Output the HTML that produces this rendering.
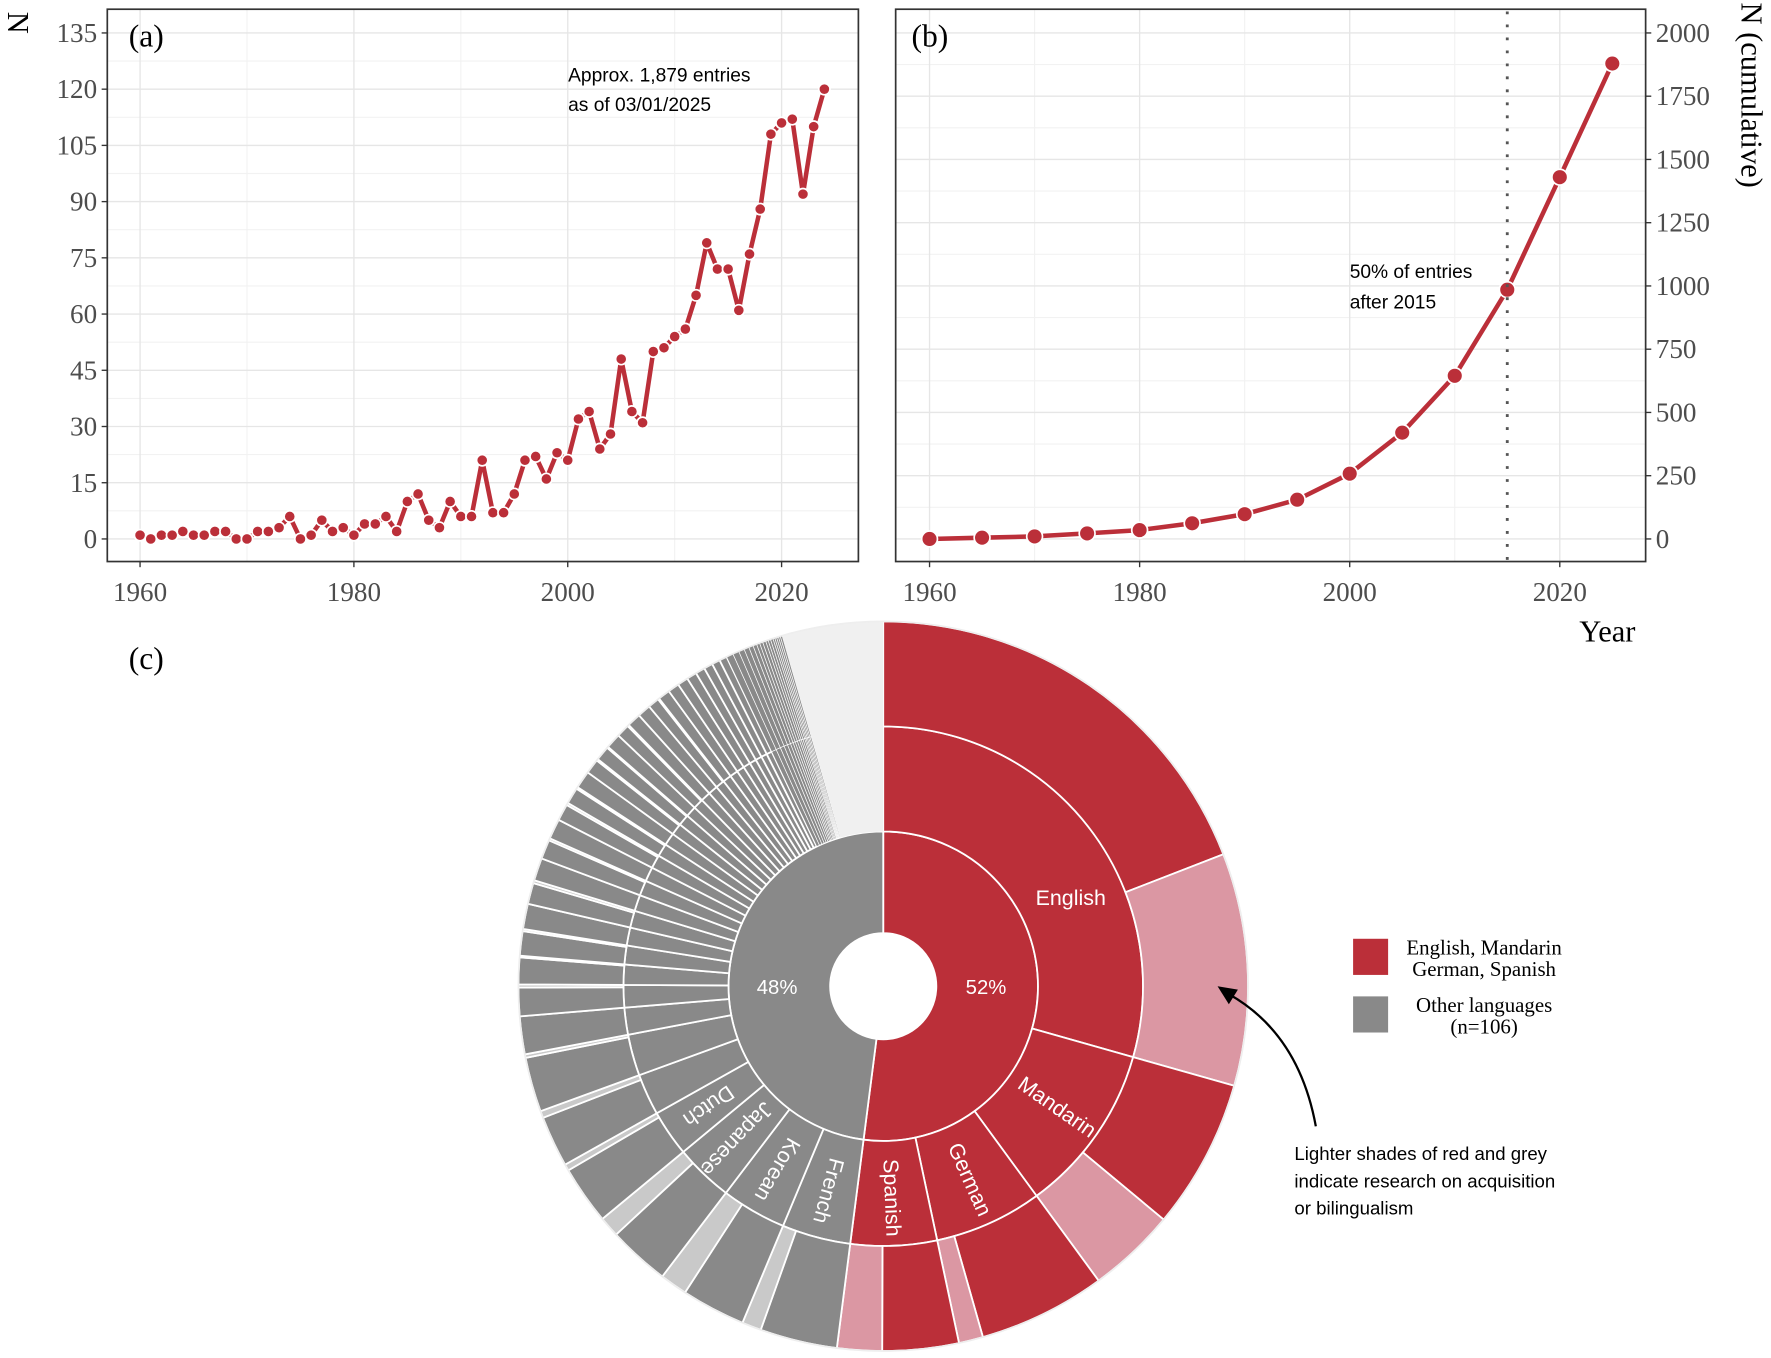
<!DOCTYPE html>
<html><head><meta charset="utf-8">
<style>
html,body{margin:0;padding:0;background:#fff;}
svg{display:block;}
.serif{font-family:"Liberation Serif",serif;}
.sans{font-family:"Liberation Sans",sans-serif;}
</style></head>
<body>
<svg id="fig" width="1771" height="1358" viewBox="0 0 1568 1202" xmlns="http://www.w3.org/2000/svg">
<g id="pa"></g>
<g id="pb"></g>
<g id="pc"></g>
</svg>
<script>
// ---------- Panel (a) data ----------
const yearsA = [];
for (let y = 1960; y <= 2024; y++) yearsA.push(y);
const countsA = [1,0,1,1,2,1,1,2,2,0,0,2,2,3,6,0,1,5,2,3,1,4,4,6,2,10,12,5,3,10,6,6,21,7,7,12,21,22,16,23,21,32,34,24,28,48,34,31,50,51,54,56,65,79,72,72,61,76,88,108,111,112,92,110,120];
const yTicksA = [0,15,30,45,60,75,90,105,120,135];
const xTicksA = [1960,1980,2000,2020];
// ---------- Panel (b) data ----------
const yearsB = [1960,1965,1970,1975,1980,1985,1990,1995,2000,2005,2010,2015,2020,2025];
const cumB = [0,5,10,22,35,62,98,155,258,420,645,985,1430,1879];
const yTicksB = [0,250,500,750,1000,1250,1500,1750,2000];
const xTicksB = [1960,1980,2000,2020];
// ---------- Panel (c) data (percent of entries) ----------
const redLangs = ['English','Mandarin','German','Spanish'];
const redShare = [29.4,10.55,6.72,5.36];
const redAcqFrac = [0.35,0.37,0.16,0.37];
const greyLangs = ['French','Korean','Japanese','Dutch'];
const greyDeg = [15.3,14.5,13,10.3,9.2,9.2,6,5,4.5,4.2,4,3.8,3.6,3.4,3.2,3,2.9,2.8,2.6,2.5,2.4,2.3,2.2,2.1,2,1.9,1.8,1.7,1.6,1.5,1.4,1.3,1.2,1.1,1,0.9,0.8,0.7,0.6,0.5,0.5,0.5,0.4,0.4,0.4,0.3,0.3,0.3,0.3,0.3];
const greyAcqFrac = [0.2,0.3,0.25,0.1,0.12,0.06,0,0.1,0.06,0.08,0,0.12,0,0.1,0,0.12,0.1,0,0.1,0.08,0,0.1,0,0,0.1,0,0,0,0,0,0,0,0,0,0,0,0,0,0,0,0,0,0,0,0,0,0,0,0,0];
const tailDeg = 16.0;

const NS = 'http://www.w3.org/2000/svg';
function mk(parent, tag, attrs, text){
  const e = document.createElementNS(NS, tag);
  for (const k in attrs) e.setAttribute(k, attrs[k]);
  if (text !== undefined) e.textContent = text;
  parent.appendChild(e); return e;
}
const RED = '#bb2f39', PINK = '#db97a3', DG = '#898989', LG = '#c9c9c9', VLG = '#f0f0f0';

function linePanel(g, opt){
  const {x0,x1,y0,y1,xs,ys,xTicks,yTicks,xv,yv,right,ptR,lw,minorX,minorY} = opt;
  minorY.forEach(v=>{ const l=mk(g,'line',{x1:x0,x2:x1,y1:ys(v),y2:ys(v),stroke:'#f2f2f2','stroke-width':1});
     });
  minorX.forEach(v=>{ const l=mk(g,'line',{x1:xs(v),x2:xs(v),y1:y0,y2:y1,stroke:'#f2f2f2','stroke-width':1});
     });
  yTicks.forEach(v=>{ const l=mk(g,'line',{x1:x0,x2:x1,y1:ys(v),y2:ys(v),stroke:'#e6e6e6','stroke-width':1.2});
     });
  xTicks.forEach(v=>{ const l=mk(g,'line',{x1:xs(v),x2:xs(v),y1:y0,y2:y1,stroke:'#e6e6e6','stroke-width':1.2});
     });
  yTicks.forEach(v=>{
    const tx = right ? x1 : x0;
    const t=mk(g,'line',{x1:tx,x2:right?tx+5:tx-5,y1:ys(v),y2:ys(v),stroke:'#333','stroke-width':1.2});
     
    const lb=mk(g,'text',{x:right?tx+9:tx-9,y:ys(v)+8,'text-anchor':right?'start':'end','font-size':24,fill:'#4d4d4d',class:'serif'},String(v));
     
  });
  xTicks.forEach(v=>{
    const t=mk(g,'line',{x1:xs(v),x2:xs(v),y1:y1,y2:y1+5,stroke:'#333','stroke-width':1.2});
     
    const lb=mk(g,'text',{x:xs(v),y:y1+35,'text-anchor':'middle','font-size':24,fill:'#4d4d4d',class:'serif'},String(v));
     
  });
  const pts = xv.map((x,i)=>xs(x)+','+ys(yv[i])).join(' ');
  const pl = mk(g,'polyline',{points:pts,fill:'none',stroke:RED,'stroke-width':lw,'stroke-linejoin':'round'});
   
  xv.forEach((x,i)=>{
    const c=mk(g,'circle',{cx:xs(x),cy:ys(yv[i]),r:ptR,fill:RED,stroke:'#fff','stroke-width':1.5});
     
  });
  const b=mk(g,'rect',{x:x0,y:y0,width:x1-x0,height:y1-y0,fill:'none',stroke:'#333','stroke-width':1.5});
   
}

// Panel (a)
(function(){
  const g = document.getElementById('pa');
  const xs = y => 124 + (y-1960)*(692-124)/60;
  const ys = v => 477 - v*(477-29)/135;
  const minorY=[]; for(let v=7.5; v<135; v+=15) minorY.push(v);
  linePanel(g,{x0:95,x1:760,y0:8,y1:497,xs,ys,xTicks:xTicksA,yTicks:yTicksA,xv:yearsA,yv:countsA,right:false,ptR:5,lw:4,minorX:[1970,1990,2010],minorY});
  const t=mk(g,'text',{x:114,y:41,'font-size':28,class:'serif',fill:'#000'},'(a)');
   
  const n=mk(g,'text',{x:0,y:0,'font-size':27,class:'serif',fill:'#000',transform:'translate(7,20) rotate(90)','text-anchor':'middle'},'N');
   
  const a1=mk(g,'text',{x:503,y:72,'font-size':17,class:'sans',fill:'#000'},'Approx. 1,879 entries');
   
  const a2=mk(g,'text',{x:503,y:98,'font-size':17,class:'sans',fill:'#000'},'as of 03/01/2025');
   
})();

// Panel (b)
(function(){
  const g = document.getElementById('pb');
  const xs = y => 823 + (y-1960)*(1381-823)/60;
  const ys = v => 477 - v*(477-29)/2000;
  const minorY=[]; for(let v=125; v<2000; v+=250) minorY.push(v);
  linePanel(g,{x0:793,x1:1457,y0:8,y1:497,xs,ys,xTicks:xTicksB,yTicks:yTicksB,xv:yearsB,yv:cumB,right:true,ptR:7,lw:4,minorX:[1970,1990,2010],minorY});
  const d=mk(g,'line',{x1:xs(2015),x2:xs(2015),y1:10,y2:497,stroke:'#555','stroke-width':2.5,'stroke-dasharray':'2.5,9'});
   
  const t=mk(g,'text',{x:807,y:41,'font-size':28,class:'serif',fill:'#000'},'(b)');
   
  const a1=mk(g,'text',{x:1195,y:246,'font-size':17,class:'sans',fill:'#000'},'50% of entries');
   
  const a2=mk(g,'text',{x:1195,y:273,'font-size':17,class:'sans',fill:'#000'},'after 2015');
   
  const yt=mk(g,'text',{x:0,y:0,'font-size':27,class:'serif',fill:'#000',transform:'translate(1542,2) rotate(90)','text-anchor':'start'},'N (cumulative)');
   
  const xt=mk(g,'text',{x:1448,y:568,'font-size':27,class:'serif',fill:'#000','text-anchor':'end'},'Year');
   
})();

// Panel (c)
(function(){
  const g = document.getElementById('pc');
  const cx=782, cy=873, r0=47, r1=137, r2=230, r3=323;
  const P=(r,a)=>{const t=a*Math.PI/180; return [cx+r*Math.sin(t), cy-r*Math.cos(t)];};
  function sector(ri,ro,a0,a1,fill,name){
    const large = (a1-a0)>180?1:0;
    const [x0,y0]=P(ro,a0),[x1,y1]=P(ro,a1),[x2,y2]=P(ri,a1),[x3,y3]=P(ri,a0);
    const d=`M${x0},${y0} A${ro},${ro} 0 ${large} 1 ${x1},${y1} L${x2},${y2} A${ri},${ri} 0 ${large} 0 ${x3},${y3} Z`;
    const p=mk(g,'path',{d,fill,stroke:'#fff','stroke-width':1.6});
     
    return p;
  }
  const redTotal = redShare.reduce((a,b)=>a+b,0);
  const redEnd = redTotal*3.6;
  sector(r0,r1,0,redEnd,RED,'inner-ring-major-languages');
  sector(r0,r1,redEnd,360,DG,'inner-ring-other-languages');
  let a=0;
  redLangs.forEach((lang,i)=>{
    const w=redShare[i]*3.6, b=a+w;
    sector(r1,r2,a,b,RED,'middle-ring-'+lang.toLowerCase());
    const split=b-w*redAcqFrac[i];
    sector(r2,r3,a,split,RED,'outer-ring-'+lang.toLowerCase());
    sector(r2,r3,split,b,PINK,'outer-ring-'+lang.toLowerCase()+'-acquisition');
    const mid=(a+b)/2;
    let lx,ly,rot;
    if(lang==='English'){ lx=948; ly=795; rot=0; }
    else { [lx,ly]=P((r1+r2)/2+4,mid); rot=mid-90; }
    const t=mk(g,'text',{x:lx,y:ly,'font-size':19,class:'sans',fill:'#fff','text-anchor':'middle','dominant-baseline':'central',transform:`rotate(${rot},${lx},${ly})`},lang);
     
    a=b;
  });
  const gSum = greyDeg.reduce((s,v)=>s+v,0)+tailDeg;
  const gScale = (360-redEnd)/gSum;
  a=redEnd;
  greyDeg.forEach((v,i)=>{
    const w=v*gScale, b=a+w;
    const sw = w<1.2 ? 0.6 : 1.6;
    const m=sector(r1,r2,a,b,DG,'middle-ring-other-language'); m.setAttribute('stroke-width',sw);
    const f=greyAcqFrac[i]||0;
    const split=b-w*f;
    const o=sector(r2,r3,a,split,DG,'outer-ring-other-language'); o.setAttribute('stroke-width',sw);
    if(f>0){ const l=sector(r2,r3,split,b,LG,'outer-ring-other-language-acquisition'); l.setAttribute('stroke-width',sw); }
    if(i<greyLangs.length){
      const mid=(a+b)/2; const [lx,ly]=P((r1+r2)/2+4,mid);
      const t=mk(g,'text',{x:lx,y:ly,'font-size':19,class:'sans',fill:'#fff','text-anchor':'middle','dominant-baseline':'central',transform:`rotate(${mid-90},${lx},${ly})`},greyLangs[i]);
       
    }
    a=b;
  });
  const tl=sector(r1,r3,a,360,VLG,'tail-small-languages'); tl.setAttribute('stroke','none');
  const edge=mk(g,'circle',{cx,cy,r:r3,fill:'none',stroke:'#eeeeee','stroke-width':1.5});
   
  const p48=mk(g,'text',{x:688,y:880,'font-size':18,class:'sans',fill:'#fff','text-anchor':'middle'},'48%');
   
  const p52=mk(g,'text',{x:873,y:880,'font-size':18,class:'sans',fill:'#fff','text-anchor':'middle'},'52%');
   
  const lc=mk(g,'text',{x:114,y:592,'font-size':28,class:'serif',fill:'#000'},'(c)');
   
  const s1=mk(g,'rect',{x:1198,y:831,width:31,height:32,fill:RED});
   
  const s2=mk(g,'rect',{x:1198,y:882,width:31,height:32,fill:DG});
   
  [['English, Mandarin',845],['German, Spanish',864],['Other languages',896],['(n=106)',915]].forEach(([s,y])=>{
    const t=mk(g,'text',{x:1314,y,'font-size':18.5,class:'serif',fill:'#000','text-anchor':'middle'},s);
     
  });
  const ar=mk(g,'path',{d:'M1165,997 Q1150,915 1088,880',fill:'none',stroke:'#000','stroke-width':2});
   
  const ah=mk(g,'path',{d:'M1078,873 L1096,876 L1088,889 Z',fill:'#000'});
   
  ['Lighter shades of red and grey','indicate research on acquisition','or bilingualism'].forEach((s,i)=>{
    const t=mk(g,'text',{x:1146,y:1027+i*24,'font-size':16.5,class:'sans',fill:'#000'},s);
     
  });
})();
</script>
</body></html>
